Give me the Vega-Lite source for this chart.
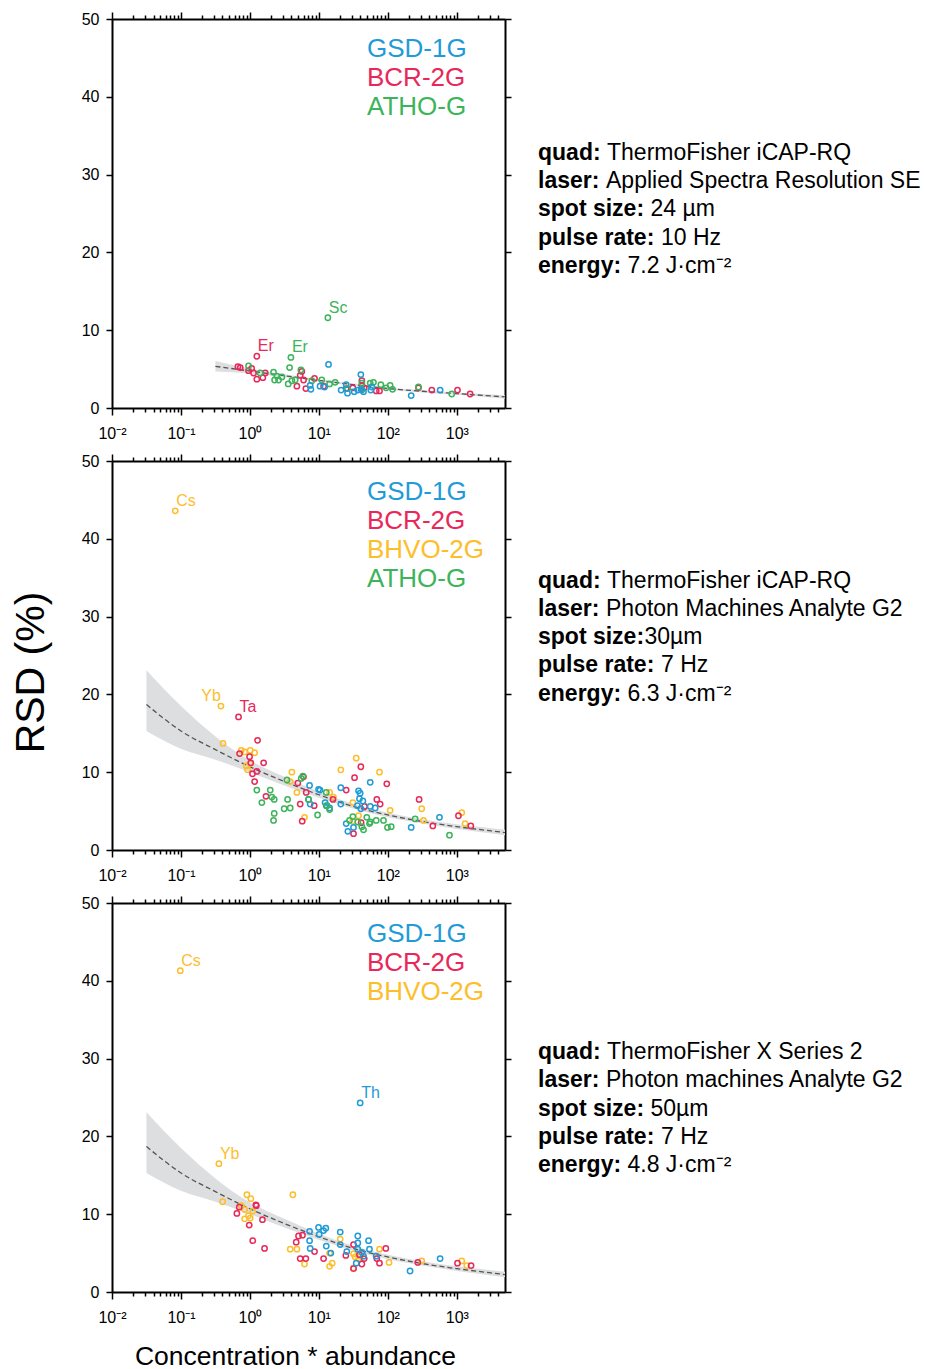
{
  "$schema": "https://vega.github.io/schema/vega-lite/v6.json",
  "padding": {"left": 10, "top": 11, "right": 0, "bottom": 0},
  "config": {
    "view": {"stroke": null},
    "font": "Liberation Sans",
    "axis": {"domainColor": "black", "domainWidth": 2, "tickColor": "black", "tickWidth": 1.5, "labelColor": "black", "labelFont": "Liberation Sans", "grid": false, "titleFont": "Liberation Sans", "titleFontWeight": "normal", "titleColor": "black"}
  },
  "datasets": {
    "p1": [
      {"s":"BCR-2G","x":0.67,"y":5.3},{"s":"BCR-2G","x":0.724,"y":5.2},{"s":"BCR-2G","x":0.955,"y":4.8},{"s":"BCR-2G","x":1.06,"y":5.1},{"s":"BCR-2G","x":1.13,"y":4.5},{"s":"BCR-2G","x":1.26,"y":3.7},{"s":"BCR-2G","x":1.54,"y":3.9},{"s":"BCR-2G","x":1.67,"y":4.5},{"s":"BCR-2G","x":4.8,"y":2.8},{"s":"BCR-2G","x":5.36,"y":4.2},{"s":"BCR-2G","x":5.66,"y":4.7},{"s":"BCR-2G","x":6.0,"y":3.6},{"s":"BCR-2G","x":6.47,"y":2.5},{"s":"BCR-2G","x":8.65,"y":3.8},{"s":"BCR-2G","x":11.7,"y":2.8},{"s":"BCR-2G","x":24.9,"y":2.5},{"s":"BCR-2G","x":31.1,"y":2.6},{"s":"BCR-2G","x":42,"y":3.5},{"s":"BCR-2G","x":42,"y":2.9},{"s":"BCR-2G","x":45.4,"y":2.6},{"s":"BCR-2G","x":67.8,"y":2.2},{"s":"BCR-2G","x":75.7,"y":2.2},{"s":"BCR-2G","x":278,"y":2.6},{"s":"BCR-2G","x":434,"y":2.3},{"s":"BCR-2G","x":1023,"y":2.3},{"s":"BCR-2G","x":1560,"y":1.8},{"s":"BCR-2G","x":1.26,"y":6.65,"lab":"Er"},
      {"s":"ATHO-G","x":0.955,"y":5.4},{"s":"ATHO-G","x":1.41,"y":4.5},{"s":"ATHO-G","x":2.2,"y":4.6},{"s":"ATHO-G","x":2.28,"y":3.6},{"s":"ATHO-G","x":2.46,"y":4.1},{"s":"ATHO-G","x":2.6,"y":3.6},{"s":"ATHO-G","x":2.91,"y":4.0},{"s":"ATHO-G","x":3.59,"y":3.1},{"s":"ATHO-G","x":3.76,"y":5.2},{"s":"ATHO-G","x":4.06,"y":3.5},{"s":"ATHO-G","x":4.54,"y":3.6},{"s":"ATHO-G","x":5.48,"y":4.9},{"s":"ATHO-G","x":7.9,"y":3.5},{"s":"ATHO-G","x":11.0,"y":3.6},{"s":"ATHO-G","x":14.3,"y":3.1},{"s":"ATHO-G","x":17.2,"y":3.3},{"s":"ATHO-G","x":26.0,"y":2.5},{"s":"ATHO-G","x":42,"y":3.2},{"s":"ATHO-G","x":42,"y":2.3},{"s":"ATHO-G","x":55.5,"y":3.2},{"s":"ATHO-G","x":61.9,"y":3.3},{"s":"ATHO-G","x":79.1,"y":3.0},{"s":"ATHO-G","x":94.4,"y":2.6},{"s":"ATHO-G","x":108,"y":2.9},{"s":"ATHO-G","x":117,"y":2.4},{"s":"ATHO-G","x":278,"y":2.7},{"s":"ATHO-G","x":845,"y":1.8},{"s":"ATHO-G","x":13.5,"y":11.6,"lab":"Sc"},{"s":"ATHO-G","x":3.93,"y":6.5,"lab":"Er"},
      {"s":"GSD-1G","x":13.8,"y":5.6},{"s":"GSD-1G","x":7.48,"y":2.9},{"s":"GSD-1G","x":7.66,"y":2.4},{"s":"GSD-1G","x":10.4,"y":2.8},{"s":"GSD-1G","x":12.1,"y":2.7},{"s":"GSD-1G","x":21.0,"y":2.3},{"s":"GSD-1G","x":24.9,"y":3.0},{"s":"GSD-1G","x":26.0,"y":1.9},{"s":"GSD-1G","x":32.5,"y":2.1},{"s":"GSD-1G","x":36.7,"y":2.3},{"s":"GSD-1G","x":40.6,"y":4.3},{"s":"GSD-1G","x":41.0,"y":2.4},{"s":"GSD-1G","x":44.4,"y":2.1},{"s":"GSD-1G","x":56.6,"y":2.3},{"s":"GSD-1G","x":58.6,"y":2.7},{"s":"GSD-1G","x":218,"y":1.6},{"s":"GSD-1G","x":573,"y":2.3}
    ],
    "p2": [
      {"s":"BHVO-2G","x":0.0826,"y":43.6,"lab":"Cs"},{"s":"BHVO-2G","x":0.38,"y":18.5,"lab":"Yb"},{"s":"BHVO-2G","x":0.407,"y":13.7},{"s":"BHVO-2G","x":0.748,"y":12.8},{"s":"BHVO-2G","x":0.838,"y":12.6},{"s":"BHVO-2G","x":1.01,"y":12.8},{"s":"BHVO-2G","x":1.17,"y":12.5},{"s":"BHVO-2G","x":0.885,"y":10.8},{"s":"BHVO-2G","x":0.925,"y":10.3},{"s":"BHVO-2G","x":1.01,"y":11.1},{"s":"BHVO-2G","x":4.06,"y":10.0},{"s":"BHVO-2G","x":3.84,"y":8.8},{"s":"BHVO-2G","x":4.8,"y":7.4},{"s":"BHVO-2G","x":6.19,"y":4.2},{"s":"BHVO-2G","x":14.3,"y":7.4},{"s":"BHVO-2G","x":16.3,"y":6.8},{"s":"BHVO-2G","x":20.8,"y":10.3},{"s":"BHVO-2G","x":34.8,"y":11.8},{"s":"BHVO-2G","x":31.1,"y":6.1},{"s":"BHVO-2G","x":37.6,"y":4.4},{"s":"BHVO-2G","x":30.9,"y":3.7},{"s":"BHVO-2G","x":75.7,"y":10.0},{"s":"BHVO-2G","x":108,"y":5.1},{"s":"BHVO-2G","x":310,"y":5.3},{"s":"BHVO-2G","x":329,"y":3.8},{"s":"BHVO-2G","x":1180,"y":4.8},{"s":"BHVO-2G","x":1318,"y":3.4},
      {"s":"BCR-2G","x":0.684,"y":17.1,"lab":"Ta"},{"s":"BCR-2G","x":1.29,"y":14.1},{"s":"BCR-2G","x":0.708,"y":12.4},{"s":"BCR-2G","x":0.989,"y":12.0},{"s":"BCR-2G","x":1.03,"y":11.2},{"s":"BCR-2G","x":1.58,"y":11.2},{"s":"BCR-2G","x":1.26,"y":10.1},{"s":"BCR-2G","x":1.09,"y":9.8},{"s":"BCR-2G","x":1.17,"y":8.8},{"s":"BCR-2G","x":1.71,"y":6.9},{"s":"BCR-2G","x":4.95,"y":8.6},{"s":"BCR-2G","x":5.98,"y":9.4},{"s":"BCR-2G","x":5.36,"y":5.9},{"s":"BCR-2G","x":5.73,"y":3.7},{"s":"BCR-2G","x":6.55,"y":7.4},{"s":"BCR-2G","x":8.55,"y":5.7},{"s":"BCR-2G","x":16.0,"y":6.5},{"s":"BCR-2G","x":24.9,"y":7.7},{"s":"BCR-2G","x":32.9,"y":9.3},{"s":"BCR-2G","x":40.6,"y":10.7},{"s":"BCR-2G","x":31.8,"y":2.1},{"s":"BCR-2G","x":41.0,"y":3.5},{"s":"BCR-2G","x":45.9,"y":5.6},{"s":"BCR-2G","x":69.2,"y":6.5},{"s":"BCR-2G","x":77.4,"y":5.9},{"s":"BCR-2G","x":96.6,"y":8.5},{"s":"BCR-2G","x":284,"y":6.5},{"s":"BCR-2G","x":449,"y":3.1},{"s":"BCR-2G","x":1057,"y":4.4},{"s":"BCR-2G","x":1596,"y":3.1},
      {"s":"GSD-1G","x":7.33,"y":8.3},{"s":"GSD-1G","x":9.89,"y":7.8},{"s":"GSD-1G","x":10.4,"y":7.7},{"s":"GSD-1G","x":7.08,"y":6.5},{"s":"GSD-1G","x":7.48,"y":5.9},{"s":"GSD-1G","x":13.1,"y":5.7},{"s":"GSD-1G","x":14.3,"y":5.4},{"s":"GSD-1G","x":12.3,"y":6.1},{"s":"GSD-1G","x":20.8,"y":8.0},{"s":"GSD-1G","x":20.8,"y":5.9},{"s":"GSD-1G","x":24.9,"y":3.4},{"s":"GSD-1G","x":26.3,"y":2.4},{"s":"GSD-1G","x":31.8,"y":2.9},{"s":"GSD-1G","x":36.3,"y":5.7},{"s":"GSD-1G","x":37.6,"y":7.6},{"s":"GSD-1G","x":39.7,"y":7.3},{"s":"GSD-1G","x":38.8,"y":6.6},{"s":"GSD-1G","x":43.4,"y":6.3},{"s":"GSD-1G","x":40.6,"y":5.3},{"s":"GSD-1G","x":55.5,"y":8.7},{"s":"GSD-1G","x":55.5,"y":5.6},{"s":"GSD-1G","x":65.5,"y":5.4},{"s":"GSD-1G","x":218,"y":2.9},{"s":"GSD-1G","x":561,"y":4.2},
      {"s":"ATHO-G","x":1.26,"y":7.7},{"s":"ATHO-G","x":1.49,"y":6.1},{"s":"ATHO-G","x":1.97,"y":7.7},{"s":"ATHO-G","x":2.08,"y":6.8},{"s":"ATHO-G","x":2.25,"y":6.5},{"s":"ATHO-G","x":2.25,"y":4.7},{"s":"ATHO-G","x":2.2,"y":3.8},{"s":"ATHO-G","x":3.44,"y":9.0},{"s":"ATHO-G","x":3.52,"y":6.5},{"s":"ATHO-G","x":3.14,"y":5.3},{"s":"ATHO-G","x":3.84,"y":5.4},{"s":"ATHO-G","x":5.55,"y":9.2},{"s":"ATHO-G","x":5.86,"y":9.5},{"s":"ATHO-G","x":7.08,"y":6.5},{"s":"ATHO-G","x":9.57,"y":4.5},{"s":"ATHO-G","x":12.8,"y":7.4},{"s":"ATHO-G","x":12.8,"y":5.7},{"s":"ATHO-G","x":14.3,"y":5.2},{"s":"ATHO-G","x":27.8,"y":3.8},{"s":"ATHO-G","x":31.1,"y":4.3},{"s":"ATHO-G","x":36.7,"y":3.6},{"s":"ATHO-G","x":44.4,"y":2.6},{"s":"ATHO-G","x":42,"y":3.0},{"s":"ATHO-G","x":49.5,"y":4.2},{"s":"ATHO-G","x":54.2,"y":3.4},{"s":"ATHO-G","x":55.5,"y":3.6},{"s":"ATHO-G","x":67.8,"y":3.8},{"s":"ATHO-G","x":86.5,"y":3.8},{"s":"ATHO-G","x":98.9,"y":2.9},{"s":"ATHO-G","x":112,"y":3.0},{"s":"ATHO-G","x":249,"y":4.0},{"s":"ATHO-G","x":783,"y":1.9}
    ],
    "p3": [
      {"s":"BHVO-2G","x":0.0977,"y":41.3,"lab":"Cs"},{"s":"BHVO-2G","x":0.355,"y":16.5,"lab":"Yb"},{"s":"BHVO-2G","x":0.402,"y":11.6},{"s":"BHVO-2G","x":0.904,"y":12.5},{"s":"BHVO-2G","x":1.03,"y":12.0},{"s":"BHVO-2G","x":0.748,"y":11.1},{"s":"BHVO-2G","x":0.838,"y":10.6},{"s":"BHVO-2G","x":1.10,"y":10.4},{"s":"BHVO-2G","x":0.955,"y":9.8},{"s":"BHVO-2G","x":0.838,"y":9.4},{"s":"BHVO-2G","x":1.01,"y":9.5},{"s":"BHVO-2G","x":4.2,"y":12.5},{"s":"BHVO-2G","x":3.84,"y":5.5},{"s":"BHVO-2G","x":4.8,"y":5.5},{"s":"BHVO-2G","x":6.19,"y":3.6},{"s":"BHVO-2G","x":14.3,"y":5.0},{"s":"BHVO-2G","x":14.3,"y":3.3},{"s":"BHVO-2G","x":15.6,"y":3.7},{"s":"BHVO-2G","x":20.4,"y":6.8},{"s":"BHVO-2G","x":31.8,"y":4.9},{"s":"BHVO-2G","x":31.8,"y":3.1},{"s":"BHVO-2G","x":33.6,"y":4.5},{"s":"BHVO-2G","x":39.7,"y":4.6},{"s":"BHVO-2G","x":37.6,"y":4.3},{"s":"BHVO-2G","x":75.7,"y":5.5},{"s":"BHVO-2G","x":104,"y":3.8},{"s":"BHVO-2G","x":310,"y":4.0},{"s":"BHVO-2G","x":1180,"y":4.0},{"s":"BHVO-2G","x":1396,"y":3.4},
      {"s":"BCR-2G","x":0.647,"y":10.1},{"s":"BCR-2G","x":0.7,"y":10.9},{"s":"BCR-2G","x":1.22,"y":11.2},{"s":"BCR-2G","x":1.24,"y":11.1},{"s":"BCR-2G","x":0.977,"y":8.6},{"s":"BCR-2G","x":1.10,"y":6.6},{"s":"BCR-2G","x":1.52,"y":9.3},{"s":"BCR-2G","x":1.63,"y":5.6},{"s":"BCR-2G","x":5.07,"y":7.2},{"s":"BCR-2G","x":5.79,"y":7.3},{"s":"BCR-2G","x":4.69,"y":6.4},{"s":"BCR-2G","x":5.36,"y":4.3},{"s":"BCR-2G","x":6.47,"y":4.3},{"s":"BCR-2G","x":8.65,"y":5.2},{"s":"BCR-2G","x":11.7,"y":4.3},{"s":"BCR-2G","x":24.6,"y":4.7},{"s":"BCR-2G","x":31.8,"y":6.1},{"s":"BCR-2G","x":31.8,"y":3.0},{"s":"BCR-2G","x":38.8,"y":4.8},{"s":"BCR-2G","x":42.0,"y":3.6},{"s":"BCR-2G","x":45.4,"y":4.3},{"s":"BCR-2G","x":69.2,"y":4.3},{"s":"BCR-2G","x":75.7,"y":3.7},{"s":"BCR-2G","x":93.5,"y":5.6},{"s":"BCR-2G","x":272,"y":3.8},{"s":"BCR-2G","x":1023,"y":3.7},{"s":"BCR-2G","x":1611,"y":3.4},
      {"s":"GSD-1G","x":7.33,"y":7.8},{"s":"GSD-1G","x":7.33,"y":6.6},{"s":"GSD-1G","x":7.48,"y":5.6},{"s":"GSD-1G","x":9.89,"y":8.3},{"s":"GSD-1G","x":10.1,"y":7.4},{"s":"GSD-1G","x":11.7,"y":7.9},{"s":"GSD-1G","x":12.6,"y":8.2},{"s":"GSD-1G","x":12.8,"y":5.9},{"s":"GSD-1G","x":14.9,"y":5.0},{"s":"GSD-1G","x":20.4,"y":7.7},{"s":"GSD-1G","x":20.4,"y":6.1},{"s":"GSD-1G","x":25.4,"y":5.2},{"s":"GSD-1G","x":36.7,"y":7.2},{"s":"GSD-1G","x":36.7,"y":6.3},{"s":"GSD-1G","x":36.7,"y":5.5},{"s":"GSD-1G","x":42.0,"y":5.1},{"s":"GSD-1G","x":34.8,"y":3.7},{"s":"GSD-1G","x":44.4,"y":4.6},{"s":"GSD-1G","x":52.5,"y":6.6},{"s":"GSD-1G","x":54.2,"y":5.5},{"s":"GSD-1G","x":67.8,"y":4.6},{"s":"GSD-1G","x":210,"y":2.7},{"s":"GSD-1G","x":573,"y":4.3},{"s":"GSD-1G","x":39.7,"y":24.3,"lab":"Th"}
    ],
    "f1": [
      {"x":0.316,"fit":5.36,"lo":4.7,"hi":6.05},{"x":1,"fit":4.75,"lo":4.45,"hi":5.05},{"x":3.16,"fit":4.15,"lo":3.95,"hi":4.35},{"x":10,"fit":3.55,"lo":3.4,"hi":3.7},{"x":31.6,"fit":3.0,"lo":2.85,"hi":3.15},{"x":100,"fit":2.5,"lo":2.35,"hi":2.65},{"x":316,"fit":2.15,"lo":2.0,"hi":2.3},{"x":1000,"fit":1.85,"lo":1.7,"hi":2.0},{"x":3162,"fit":1.55,"lo":1.35,"hi":1.75},{"x":5000,"fit":1.42,"lo":1.2,"hi":1.65}
    ],
    "f23": [
      {"x":0.0316,"fit":18.7,"lo":15.3,"hi":23.1},{"x":0.1,"fit":15.3,"lo":13.0,"hi":18.5},{"x":0.316,"fit":12.9,"lo":11.6,"hi":14.6},{"x":1,"fit":10.7,"lo":10.0,"hi":11.5},{"x":3.16,"fit":8.8,"lo":8.3,"hi":9.4},{"x":10,"fit":7.1,"lo":6.7,"hi":7.5},{"x":31.6,"fit":5.6,"lo":5.3,"hi":5.95},{"x":100,"fit":4.5,"lo":4.2,"hi":4.8},{"x":316,"fit":3.66,"lo":3.4,"hi":3.95},{"x":1000,"fit":3.0,"lo":2.7,"hi":3.3},{"x":3162,"fit":2.45,"lo":2.12,"hi":2.8},{"x":5000,"fit":2.24,"lo":1.9,"hi":2.6}
    ],
    "txt": [
      {"p":1,"line":1,"k":"quad","lab":"quad:","val":"ThermoFisher iCAP-RQ"},
      {"p":1,"line":2,"k":"laser","lab":"laser:","val":"Applied Spectra Resolution SE"},
      {"p":1,"line":3,"k":"spot","lab":"spot size:","val":"24 µm"},
      {"p":1,"line":4,"k":"pulse","lab":"pulse rate:","val":"10 Hz"},
      {"p":1,"line":5,"k":"energy","lab":"energy:","val":"7.2 J·cm⁻²"},
      {"p":2,"line":1,"k":"quad","lab":"quad:","val":"ThermoFisher iCAP-RQ"},
      {"p":2,"line":2,"k":"laser","lab":"laser:","val":"Photon Machines Analyte G2"},
      {"p":2,"line":3,"k":"spot","lab":"spot size:","val":"30µm"},
      {"p":2,"line":4,"k":"pulse","lab":"pulse rate:","val":"7 Hz"},
      {"p":2,"line":5,"k":"energy","lab":"energy:","val":"6.3 J·cm⁻²"},
      {"p":3,"line":1,"k":"quad","lab":"quad:","val":"ThermoFisher X Series 2"},
      {"p":3,"line":2,"k":"laser","lab":"laser:","val":"Photon machines Analyte G2"},
      {"p":3,"line":3,"k":"spot","lab":"spot size:","val":"50µm"},
      {"p":3,"line":4,"k":"pulse","lab":"pulse rate:","val":"7 Hz"},
      {"p":3,"line":5,"k":"energy","lab":"energy:","val":"4.8 J·cm⁻²"}
    ]
  },
  "columns": 2,
  "spacing": {"row": 53, "column": 33},
  "bounds": "flush",
  "resolve": {"scale": {"color": "independent"}, "legend": {"color": "independent"}},
  "concat": [
    {
      "width": 393, "height": 389,
      "layer": [
        {"data": {"name": "f1"}, "mark": {"type": "area", "color": "#DDDEE0", "interpolate": "monotone"},
         "encoding": {
           "x": {"field": "x", "type": "quantitative", "scale": {"type": "log", "domain": [0.01, 5000]},
                 "axis": {"orient": "bottom", "title": null, "values": [0.01,0.02,0.03,0.04,0.05,0.06,0.07,0.08,0.09,0.1,0.2,0.3,0.4,0.5,0.6,0.7,0.8,0.9,1,2,3,4,5,6,7,8,9,10,20,30,40,50,60,70,80,90,100,200,300,400,500,600,700,800,900,1000,2000,3000,4000],
                          "tickSize": {"condition": {"test": "indexof([0.01,0.1,1,10,100,1000], datum.value) >= 0", "value": 7}, "value": 4},
                          "labelExpr": "datum.value == 0.01 ? '10⁻²' : datum.value == 0.1 ? '10⁻¹' : datum.value == 1 ? '10⁰' : datum.value == 10 ? '10¹' : datum.value == 100 ? '10²' : datum.value == 1000 ? '10³' : ''",
                          "labelFontSize": 16, "labelPadding": 10, "labelOverlap": false, "labelFlush": false}},
           "y": {"field": "lo", "type": "quantitative", "scale": {"domain": [0, 50]},
                 "axis": {"orient": "left", "title": null, "values": [0,10,20,30,40,50], "tickSize": 6, "labelFontSize": 16, "labelPadding": 7}},
           "y2": {"field": "hi"}
         }},
        {"data": {"name": "f1"}, "mark": {"type": "line", "color": "#555555", "strokeDash": [5, 3], "strokeWidth": 1.3, "interpolate": "monotone"},
         "encoding": {
           "x": {"field": "x", "type": "quantitative", "scale": {"type": "log", "domain": [0.01, 5000]},
                 "axis": {"orient": "top", "title": null, "labels": false, "values": [0.01,0.02,0.03,0.04,0.05,0.06,0.07,0.08,0.09,0.1,0.2,0.3,0.4,0.5,0.6,0.7,0.8,0.9,1,2,3,4,5,6,7,8,9,10,20,30,40,50,60,70,80,90,100,200,300,400,500,600,700,800,900,1000,2000,3000,4000],
                          "tickSize": {"condition": {"test": "indexof([0.01,0.1,1,10,100,1000], datum.value) >= 0", "value": 7}, "value": 4}}},
           "y": {"field": "fit", "type": "quantitative", "scale": {"domain": [0, 50]},
                 "axis": {"orient": "right", "title": null, "labels": false, "values": [0,10,20,30,40,50], "tickSize": 6}}
         }},
        {"data": {"name": "p1"}, "mark": {"type": "point", "shape": "circle", "filled": false, "size": 28, "strokeWidth": 1.5, "opacity": 1},
         "encoding": {
           "x": {"field": "x", "type": "quantitative", "scale": {"type": "log", "domain": [0.01, 5000]}, "axis": null},
           "y": {"field": "y", "type": "quantitative", "scale": {"domain": [0, 50]}, "axis": null},
           "color": {"field": "s", "type": "nominal", "scale": {"domain": ["GSD-1G", "BCR-2G", "ATHO-G"], "range": ["#1F9BD7", "#E8285A", "#3CB45A"]},
                     "legend": {"orient": "none", "legendX": 229, "legendY": 17, "title": null, "symbolSize": 0, "symbolOpacity": 0, "symbolStrokeWidth": 0, "labelFontSize": 26, "labelOffset": 0, "rowPadding": 3, "padding": 0, "labelFont": "Liberation Sans",
                                "labelColor": {"expr": "datum.label == 'GSD-1G' ? '#1F9BD7' : datum.label == 'BCR-2G' ? '#E8285A' : datum.label == 'BHVO-2G' ? '#FDBE2C' : '#3CB45A'"}}}
         }},
        {"data": {"name": "p1"}, "transform": [{"filter": "datum.lab"}], "mark": {"type": "text", "align": "left", "baseline": "alphabetic", "dx": 1, "dy": -5, "fontSize": 16},
         "encoding": {
           "x": {"field": "x", "type": "quantitative", "scale": {"type": "log", "domain": [0.01, 5000]}, "axis": null},
           "y": {"field": "y", "type": "quantitative", "scale": {"domain": [0, 50]}, "axis": null},
           "text": {"field": "lab"},
           "color": {"field": "s", "type": "nominal", "scale": {"domain": ["GSD-1G", "BCR-2G", "ATHO-G"], "range": ["#1F9BD7", "#E8285A", "#3CB45A"]}}
         }}
      ],
      "resolve": {"axis": {"x": "independent", "y": "independent"}}
    },
    {
      "width": 380, "height": 389,
      "data": {"name": "txt"},
      "transform": [{"filter": "datum.p == 1"}],
      "encoding": {"y": {"field": "line", "type": "quantitative", "scale": {"domain": [1, 5], "range": [140.7, 254]}, "axis": null}, "x": {"value": 0}},
      "layer": [
        {"mark": {"type": "text", "align": "left", "baseline": "alphabetic", "fontSize": 23, "fontWeight": "bold", "color": "black"}, "encoding": {"text": {"field": "lab"}}},
        {"transform": [{"filter": "datum.k == 'quad'"}], "mark": {"type": "text", "align": "left", "baseline": "alphabetic", "fontSize": 23, "color": "black", "dx": 69}, "encoding": {"text": {"field": "val"}}},
        {"transform": [{"filter": "datum.k == 'laser'"}], "mark": {"type": "text", "align": "left", "baseline": "alphabetic", "fontSize": 23, "color": "black", "dx": 68}, "encoding": {"text": {"field": "val"}}},
        {"transform": [{"filter": "datum.k == 'spot'"}], "mark": {"type": "text", "align": "left", "baseline": "alphabetic", "fontSize": 23, "color": "black", "dx": 112.5}, "encoding": {"text": {"field": "val"}}},
        {"transform": [{"filter": "datum.k == 'pulse'"}], "mark": {"type": "text", "align": "left", "baseline": "alphabetic", "fontSize": 23, "color": "black", "dx": 123}, "encoding": {"text": {"field": "val"}}},
        {"transform": [{"filter": "datum.k == 'energy'"}], "mark": {"type": "text", "align": "left", "baseline": "alphabetic", "fontSize": 23, "color": "black", "dx": 89.5}, "encoding": {"text": {"field": "val"}}}
      ]
    },
    {
      "width": 393, "height": 389,
      "layer": [
        {"data": {"name": "f23"}, "mark": {"type": "area", "color": "#DDDEE0", "interpolate": "monotone"},
         "encoding": {
           "x": {"field": "x", "type": "quantitative", "scale": {"type": "log", "domain": [0.01, 5000]},
                 "axis": {"orient": "bottom", "title": null, "values": [0.01,0.02,0.03,0.04,0.05,0.06,0.07,0.08,0.09,0.1,0.2,0.3,0.4,0.5,0.6,0.7,0.8,0.9,1,2,3,4,5,6,7,8,9,10,20,30,40,50,60,70,80,90,100,200,300,400,500,600,700,800,900,1000,2000,3000,4000],
                          "tickSize": {"condition": {"test": "indexof([0.01,0.1,1,10,100,1000], datum.value) >= 0", "value": 7}, "value": 4},
                          "labelExpr": "datum.value == 0.01 ? '10⁻²' : datum.value == 0.1 ? '10⁻¹' : datum.value == 1 ? '10⁰' : datum.value == 10 ? '10¹' : datum.value == 100 ? '10²' : datum.value == 1000 ? '10³' : ''",
                          "labelFontSize": 16, "labelPadding": 10, "labelOverlap": false, "labelFlush": false}},
           "y": {"field": "lo", "type": "quantitative", "scale": {"domain": [0, 50]},
                 "axis": {"orient": "left", "title": "RSD (%)", "titleFontSize": 41, "titlePadding": 29, "titleY": 211, "values": [0,10,20,30,40,50], "tickSize": 6, "labelFontSize": 16, "labelPadding": 7}},
           "y2": {"field": "hi"}
         }},
        {"data": {"name": "f23"}, "mark": {"type": "line", "color": "#555555", "strokeDash": [5, 3], "strokeWidth": 1.3, "interpolate": "monotone"},
         "encoding": {
           "x": {"field": "x", "type": "quantitative", "scale": {"type": "log", "domain": [0.01, 5000]},
                 "axis": {"orient": "top", "title": null, "labels": false, "values": [0.01,0.02,0.03,0.04,0.05,0.06,0.07,0.08,0.09,0.1,0.2,0.3,0.4,0.5,0.6,0.7,0.8,0.9,1,2,3,4,5,6,7,8,9,10,20,30,40,50,60,70,80,90,100,200,300,400,500,600,700,800,900,1000,2000,3000,4000],
                          "tickSize": {"condition": {"test": "indexof([0.01,0.1,1,10,100,1000], datum.value) >= 0", "value": 7}, "value": 4}}},
           "y": {"field": "fit", "type": "quantitative", "scale": {"domain": [0, 50]},
                 "axis": {"orient": "right", "title": null, "labels": false, "values": [0,10,20,30,40,50], "tickSize": 6}}
         }},
        {"data": {"name": "p2"}, "mark": {"type": "point", "shape": "circle", "filled": false, "size": 28, "strokeWidth": 1.5, "opacity": 1},
         "encoding": {
           "x": {"field": "x", "type": "quantitative", "scale": {"type": "log", "domain": [0.01, 5000]}, "axis": null},
           "y": {"field": "y", "type": "quantitative", "scale": {"domain": [0, 50]}, "axis": null},
           "color": {"field": "s", "type": "nominal", "scale": {"domain": ["GSD-1G", "BCR-2G", "BHVO-2G", "ATHO-G"], "range": ["#1F9BD7", "#E8285A", "#FDBE2C", "#3CB45A"]},
                     "legend": {"orient": "none", "legendX": 229, "legendY": 18, "title": null, "symbolSize": 0, "symbolOpacity": 0, "symbolStrokeWidth": 0, "labelFontSize": 26, "labelOffset": 0, "rowPadding": 3, "padding": 0, "labelFont": "Liberation Sans",
                                "labelColor": {"expr": "datum.label == 'GSD-1G' ? '#1F9BD7' : datum.label == 'BCR-2G' ? '#E8285A' : datum.label == 'BHVO-2G' ? '#FDBE2C' : '#3CB45A'"}}}
         }},
        {"data": {"name": "p2"}, "transform": [{"filter": "datum.lab && datum.lab != 'Yb'"}], "mark": {"type": "text", "align": "left", "baseline": "alphabetic", "dx": 1, "dy": -5, "fontSize": 16},
         "encoding": {
           "x": {"field": "x", "type": "quantitative", "scale": {"type": "log", "domain": [0.01, 5000]}, "axis": null},
           "y": {"field": "y", "type": "quantitative", "scale": {"domain": [0, 50]}, "axis": null},
           "text": {"field": "lab"},
           "color": {"field": "s", "type": "nominal", "scale": {"domain": ["GSD-1G", "BCR-2G", "BHVO-2G", "ATHO-G"], "range": ["#1F9BD7", "#E8285A", "#FDBE2C", "#3CB45A"]}}
         }},
        {"data": {"name": "p2"}, "transform": [{"filter": "datum.lab == 'Yb'"}], "mark": {"type": "text", "align": "right", "baseline": "alphabetic", "dx": 0, "dy": -5, "fontSize": 16},
         "encoding": {
           "x": {"field": "x", "type": "quantitative", "scale": {"type": "log", "domain": [0.01, 5000]}, "axis": null},
           "y": {"field": "y", "type": "quantitative", "scale": {"domain": [0, 50]}, "axis": null},
           "text": {"field": "lab"},
           "color": {"field": "s", "type": "nominal", "scale": {"domain": ["GSD-1G", "BCR-2G", "BHVO-2G", "ATHO-G"], "range": ["#1F9BD7", "#E8285A", "#FDBE2C", "#3CB45A"]}}
         }}
      ],
      "resolve": {"axis": {"x": "independent", "y": "independent"}}
    },
    {
      "width": 380, "height": 389,
      "data": {"name": "txt"},
      "transform": [{"filter": "datum.p == 2"}],
      "encoding": {"y": {"field": "line", "type": "quantitative", "scale": {"domain": [1, 5], "range": [126.5, 239.8]}, "axis": null}, "x": {"value": 0}},
      "layer": [
        {"mark": {"type": "text", "align": "left", "baseline": "alphabetic", "fontSize": 23, "fontWeight": "bold", "color": "black"}, "encoding": {"text": {"field": "lab"}}},
        {"transform": [{"filter": "datum.k == 'quad'"}], "mark": {"type": "text", "align": "left", "baseline": "alphabetic", "fontSize": 23, "color": "black", "dx": 69}, "encoding": {"text": {"field": "val"}}},
        {"transform": [{"filter": "datum.k == 'laser'"}], "mark": {"type": "text", "align": "left", "baseline": "alphabetic", "fontSize": 23, "color": "black", "dx": 68}, "encoding": {"text": {"field": "val"}}},
        {"transform": [{"filter": "datum.k == 'spot'"}], "mark": {"type": "text", "align": "left", "baseline": "alphabetic", "fontSize": 23, "color": "black", "dx": 106.5}, "encoding": {"text": {"field": "val"}}},
        {"transform": [{"filter": "datum.k == 'pulse'"}], "mark": {"type": "text", "align": "left", "baseline": "alphabetic", "fontSize": 23, "color": "black", "dx": 123}, "encoding": {"text": {"field": "val"}}},
        {"transform": [{"filter": "datum.k == 'energy'"}], "mark": {"type": "text", "align": "left", "baseline": "alphabetic", "fontSize": 23, "color": "black", "dx": 89.5}, "encoding": {"text": {"field": "val"}}}
      ]
    },
    {
      "width": 393, "height": 389,
      "layer": [
        {"data": {"name": "f23"}, "mark": {"type": "area", "color": "#DDDEE0", "interpolate": "monotone"},
         "encoding": {
           "x": {"field": "x", "type": "quantitative", "scale": {"type": "log", "domain": [0.01, 5000]},
                 "axis": {"orient": "bottom", "title": "Concentration * abundance", "titleFontSize": 26.5, "titlePadding": 18, "titleX": 183, "values": [0.01,0.02,0.03,0.04,0.05,0.06,0.07,0.08,0.09,0.1,0.2,0.3,0.4,0.5,0.6,0.7,0.8,0.9,1,2,3,4,5,6,7,8,9,10,20,30,40,50,60,70,80,90,100,200,300,400,500,600,700,800,900,1000,2000,3000,4000],
                          "tickSize": {"condition": {"test": "indexof([0.01,0.1,1,10,100,1000], datum.value) >= 0", "value": 7}, "value": 4},
                          "labelExpr": "datum.value == 0.01 ? '10⁻²' : datum.value == 0.1 ? '10⁻¹' : datum.value == 1 ? '10⁰' : datum.value == 10 ? '10¹' : datum.value == 100 ? '10²' : datum.value == 1000 ? '10³' : ''",
                          "labelFontSize": 16, "labelPadding": 10, "labelOverlap": false, "labelFlush": false}},
           "y": {"field": "lo", "type": "quantitative", "scale": {"domain": [0, 50]},
                 "axis": {"orient": "left", "title": null, "values": [0,10,20,30,40,50], "tickSize": 6, "labelFontSize": 16, "labelPadding": 7}},
           "y2": {"field": "hi"}
         }},
        {"data": {"name": "f23"}, "mark": {"type": "line", "color": "#555555", "strokeDash": [5, 3], "strokeWidth": 1.3, "interpolate": "monotone"},
         "encoding": {
           "x": {"field": "x", "type": "quantitative", "scale": {"type": "log", "domain": [0.01, 5000]},
                 "axis": {"orient": "top", "title": null, "labels": false, "values": [0.01,0.02,0.03,0.04,0.05,0.06,0.07,0.08,0.09,0.1,0.2,0.3,0.4,0.5,0.6,0.7,0.8,0.9,1,2,3,4,5,6,7,8,9,10,20,30,40,50,60,70,80,90,100,200,300,400,500,600,700,800,900,1000,2000,3000,4000],
                          "tickSize": {"condition": {"test": "indexof([0.01,0.1,1,10,100,1000], datum.value) >= 0", "value": 7}, "value": 4}}},
           "y": {"field": "fit", "type": "quantitative", "scale": {"domain": [0, 50]},
                 "axis": {"orient": "right", "title": null, "labels": false, "values": [0,10,20,30,40,50], "tickSize": 6}}
         }},
        {"data": {"name": "p3"}, "mark": {"type": "point", "shape": "circle", "filled": false, "size": 28, "strokeWidth": 1.5, "opacity": 1},
         "encoding": {
           "x": {"field": "x", "type": "quantitative", "scale": {"type": "log", "domain": [0.01, 5000]}, "axis": null},
           "y": {"field": "y", "type": "quantitative", "scale": {"domain": [0, 50]}, "axis": null},
           "color": {"field": "s", "type": "nominal", "scale": {"domain": ["GSD-1G", "BCR-2G", "BHVO-2G"], "range": ["#1F9BD7", "#E8285A", "#FDBE2C"]},
                     "legend": {"orient": "none", "legendX": 229, "legendY": 18, "title": null, "symbolSize": 0, "symbolOpacity": 0, "symbolStrokeWidth": 0, "labelFontSize": 26, "labelOffset": 0, "rowPadding": 3, "padding": 0, "labelFont": "Liberation Sans",
                                "labelColor": {"expr": "datum.label == 'GSD-1G' ? '#1F9BD7' : datum.label == 'BCR-2G' ? '#E8285A' : datum.label == 'BHVO-2G' ? '#FDBE2C' : '#3CB45A'"}}}
         }},
        {"data": {"name": "p3"}, "transform": [{"filter": "datum.lab"}], "mark": {"type": "text", "align": "left", "baseline": "alphabetic", "dx": 1, "dy": -5, "fontSize": 16},
         "encoding": {
           "x": {"field": "x", "type": "quantitative", "scale": {"type": "log", "domain": [0.01, 5000]}, "axis": null},
           "y": {"field": "y", "type": "quantitative", "scale": {"domain": [0, 50]}, "axis": null},
           "text": {"field": "lab"},
           "color": {"field": "s", "type": "nominal", "scale": {"domain": ["GSD-1G", "BCR-2G", "BHVO-2G"], "range": ["#1F9BD7", "#E8285A", "#FDBE2C"]}}
         }}
      ],
      "resolve": {"axis": {"x": "independent", "y": "independent"}}
    },
    {
      "width": 380, "height": 389,
      "data": {"name": "txt"},
      "transform": [{"filter": "datum.p == 3"}],
      "encoding": {"y": {"field": "line", "type": "quantitative", "scale": {"domain": [1, 5], "range": [156, 269.3]}, "axis": null}, "x": {"value": 0}},
      "layer": [
        {"mark": {"type": "text", "align": "left", "baseline": "alphabetic", "fontSize": 23, "fontWeight": "bold", "color": "black"}, "encoding": {"text": {"field": "lab"}}},
        {"transform": [{"filter": "datum.k == 'quad'"}], "mark": {"type": "text", "align": "left", "baseline": "alphabetic", "fontSize": 23, "color": "black", "dx": 69}, "encoding": {"text": {"field": "val"}}},
        {"transform": [{"filter": "datum.k == 'laser'"}], "mark": {"type": "text", "align": "left", "baseline": "alphabetic", "fontSize": 23, "color": "black", "dx": 68}, "encoding": {"text": {"field": "val"}}},
        {"transform": [{"filter": "datum.k == 'spot'"}], "mark": {"type": "text", "align": "left", "baseline": "alphabetic", "fontSize": 23, "color": "black", "dx": 112.5}, "encoding": {"text": {"field": "val"}}},
        {"transform": [{"filter": "datum.k == 'pulse'"}], "mark": {"type": "text", "align": "left", "baseline": "alphabetic", "fontSize": 23, "color": "black", "dx": 123}, "encoding": {"text": {"field": "val"}}},
        {"transform": [{"filter": "datum.k == 'energy'"}], "mark": {"type": "text", "align": "left", "baseline": "alphabetic", "fontSize": 23, "color": "black", "dx": 89.5}, "encoding": {"text": {"field": "val"}}}
      ]
    }
  ]
}
